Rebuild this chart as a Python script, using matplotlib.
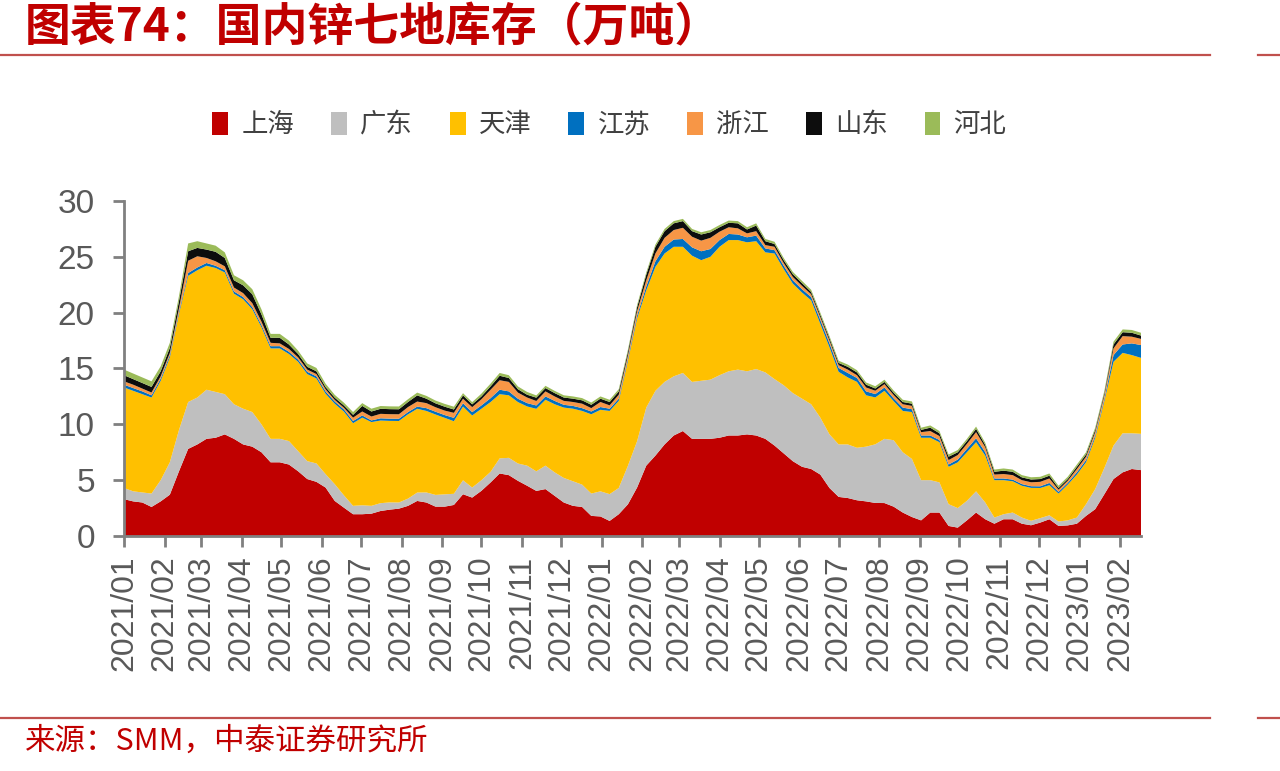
import matplotlib
matplotlib.use("Agg")
import matplotlib.pyplot as plt
import matplotlib.dates as mdates
from matplotlib.patches import Patch
from matplotlib.lines import Line2D
import pandas as pd

plt.rcParams['font.family'] = ['Noto Sans CJK SC', 'DejaVu Sans']

# weekly dates
dates = pd.date_range('2021-01-01', periods=112, freq='7D')

shanghai = [3.3, 3.1, 3.0, 2.6, 3.1, 3.7, 5.8, 7.8, 8.2, 8.7, 8.8, 9.1, 8.7, 8.2, 8.0, 7.5,
            6.6, 6.6, 6.4, 5.8, 5.1, 4.85, 4.34, 3.14, 2.54, 1.95, 1.95, 2.0, 2.24, 2.36, 2.45, 2.7,
            3.14, 3.0, 2.63, 2.63, 2.78, 3.74, 3.44, 4.04, 4.79, 5.6, 5.45, 4.94, 4.5, 4.04, 4.2, 3.6,
            3.0, 2.7, 2.6, 1.8, 1.75, 1.35, 1.95, 2.84, 4.34, 6.3, 7.2, 8.2, 9.0, 9.4, 8.7, 8.7,
            8.7, 8.8, 9.0, 9.0, 9.1, 9.0, 8.7, 8.1, 7.4, 6.7, 6.2, 6.0, 5.5, 4.3, 3.5, 3.4,
            3.2, 3.1, 2.96, 2.95, 2.63, 2.1, 1.7, 1.4, 2.1, 2.1, 0.9, 0.75, 1.4, 2.1, 1.5, 1.1,
            1.5, 1.5, 1.1, 0.96, 1.2, 1.5, 0.9, 0.95, 1.1, 1.8, 2.4, 3.74, 5.1, 5.7, 6.0, 5.9]
guangdong = [1.0, 0.9, 0.9, 1.2, 1.9, 2.9, 3.7, 4.2, 4.2, 4.4, 4.1, 3.6, 3.1, 3.2, 3.1, 2.5,
             2.1, 2.1, 2.1, 1.8, 1.6, 1.65, 1.2, 1.5, 1.1, 0.75, 0.8, 0.7, 0.7, 0.65, 0.55, 0.65,
             0.75, 0.9, 1.05, 1.1, 1.0, 1.25, 0.9, 0.95, 0.95, 1.35, 1.55, 1.55, 1.8, 1.75, 2.1, 2.1,
             2.2, 2.2, 2.0, 2.0, 2.25, 2.4, 2.35, 3.45, 4.15, 5.2, 5.8, 5.6, 5.3, 5.2, 5.1, 5.2,
             5.3, 5.6, 5.75, 5.9, 5.65, 5.95, 5.95, 5.95, 6.1, 6.1, 6.1, 5.8, 5.1, 4.8, 4.7, 4.8,
             4.7, 4.9, 5.25, 5.75, 5.95, 5.4, 5.2, 3.6, 2.9, 2.7, 1.95, 1.75, 1.75, 1.9, 1.5, 0.55,
             0.45, 0.6, 0.55, 0.4, 0.4, 0.35, 0.4, 0.45, 0.55, 1.05, 1.8, 2.35, 3.0, 3.5, 3.2, 3.25]
tianjin = [9.0, 9.0, 8.8, 8.6, 8.9, 9.4, 10.4, 11.3, 11.4, 11.1, 11.1, 10.9, 9.9, 9.8, 9.2, 8.7,
           8.1, 8.1, 7.8, 8.0, 7.8, 7.6, 7.2, 7.2, 7.5, 7.4, 7.85, 7.5, 7.4, 7.3, 7.3, 7.55,
           7.5, 7.3, 7.2, 6.85, 6.5, 6.6, 6.45, 6.4, 6.25, 5.75, 5.6, 5.5, 5.3, 5.6, 5.9, 6.1,
           6.3, 6.5, 6.6, 7.1, 7.3, 7.45, 7.8, 9.4, 11.0, 10.5, 11.1, 11.5, 11.6, 11.3, 11.3, 10.8,
           11.0, 11.5, 11.75, 11.6, 11.55, 11.45, 10.75, 11.25, 10.4, 9.8, 9.5, 9.3, 8.4, 7.8, 6.5, 6.0,
           5.9, 4.6, 4.2, 4.3, 3.5, 3.7, 4.2, 3.8, 3.8, 3.6, 3.35, 4.1, 4.35, 4.4, 4.2, 3.35,
           3.05, 2.8, 2.85, 2.95, 2.7, 2.7, 2.5, 3.2, 3.85, 3.75, 4.6, 6.0, 7.5, 7.2, 7.0, 6.8]
jiangsu = [0.25, 0.25, 0.25, 0.2, 0.2, 0.2, 0.2, 0.25, 0.25, 0.25, 0.2, 0.2, 0.2, 0.2, 0.2, 0.2,
           0.2, 0.2, 0.2, 0.2, 0.2, 0.2, 0.2, 0.2, 0.2, 0.2, 0.2, 0.15, 0.2, 0.2, 0.2, 0.2,
           0.2, 0.25, 0.25, 0.25, 0.3, 0.3, 0.3, 0.3, 0.35, 0.4, 0.35, 0.3, 0.3, 0.3, 0.3, 0.3,
           0.25, 0.25, 0.25, 0.25, 0.25, 0.2, 0.2, 0.2, 0.25, 0.35, 0.5, 0.6, 0.65, 0.7, 0.75, 0.8,
           0.7, 0.6, 0.55, 0.5, 0.45, 0.5, 0.35, 0.3, 0.3, 0.3, 0.3, 0.3, 0.35, 0.35, 0.35, 0.4,
           0.35, 0.35, 0.3, 0.3, 0.25, 0.3, 0.25, 0.2, 0.2, 0.2, 0.2, 0.25, 0.3, 0.35, 0.3, 0.15,
           0.15, 0.15, 0.15, 0.15, 0.15, 0.2, 0.15, 0.15, 0.2, 0.2, 0.2, 0.2, 0.6, 0.75, 1.05, 1.15]
zhejiang = [0.3, 0.3, 0.25, 0.25, 0.2, 0.2, 0.3, 1.1, 1.0, 0.45, 0.4, 0.35, 0.35, 0.35, 0.35, 0.3,
            0.3, 0.25, 0.25, 0.2, 0.2, 0.2, 0.2, 0.15, 0.15, 0.3, 0.35, 0.35, 0.4, 0.4, 0.4, 0.45,
            0.45, 0.45, 0.4, 0.4, 0.45, 0.4, 0.45, 0.55, 0.75, 0.85, 0.85, 0.55, 0.5, 0.4, 0.45, 0.4,
            0.35, 0.35, 0.4, 0.3, 0.45, 0.3, 0.35, 0.3, 0.4, 0.55, 0.7, 0.8, 0.85, 1.0, 0.95, 0.95,
            1.0, 0.75, 0.6, 0.55, 0.35, 0.4, 0.3, 0.3, 0.25, 0.3, 0.3, 0.25, 0.25, 0.25, 0.25, 0.3,
            0.25, 0.35, 0.3, 0.3, 0.3, 0.3, 0.3, 0.3, 0.4, 0.35, 0.4, 0.4, 0.45, 0.55, 0.45, 0.35,
            0.4, 0.4, 0.35, 0.35, 0.4, 0.4, 0.2, 0.2, 0.3, 0.3, 0.3, 0.3, 0.6, 0.75, 0.6, 0.55]
shandong = [0.55, 0.5, 0.5, 0.5, 0.45, 0.45, 0.65, 0.85, 0.75, 0.75, 0.85, 0.75, 0.65, 0.7, 0.8, 0.65,
            0.45, 0.5, 0.4, 0.3, 0.25, 0.25, 0.2, 0.2, 0.2, 0.25, 0.5, 0.45, 0.45, 0.45, 0.45, 0.45,
            0.55, 0.4, 0.35, 0.35, 0.3, 0.3, 0.25, 0.25, 0.3, 0.4, 0.35, 0.3, 0.25, 0.3, 0.3, 0.3,
            0.3, 0.3, 0.3, 0.3, 0.3, 0.3, 0.3, 0.3, 0.35, 0.5, 0.6, 0.6, 0.6, 0.6, 0.5, 0.55,
            0.5, 0.4, 0.4, 0.45, 0.35, 0.5, 0.35, 0.25, 0.25, 0.25, 0.25, 0.2, 0.2, 0.2, 0.2, 0.25,
            0.25, 0.25, 0.2, 0.2, 0.2, 0.2, 0.2, 0.2, 0.3, 0.25, 0.3, 0.25, 0.25, 0.3, 0.2, 0.25,
            0.3, 0.3, 0.25, 0.25, 0.25, 0.25, 0.15, 0.15, 0.2, 0.2, 0.2, 0.2, 0.35, 0.35, 0.35, 0.3]
hebei = [0.5, 0.5, 0.5, 0.5, 0.45, 0.45, 0.45, 0.7, 0.6, 0.55, 0.55, 0.5, 0.45, 0.45, 0.45, 0.45,
         0.35, 0.35, 0.35, 0.3, 0.3, 0.3, 0.3, 0.25, 0.25, 0.25, 0.25, 0.25, 0.25, 0.25, 0.25, 0.25,
         0.25, 0.25, 0.25, 0.25, 0.25, 0.2, 0.2, 0.25, 0.25, 0.25, 0.25, 0.25, 0.25, 0.2, 0.2, 0.2,
         0.2, 0.2, 0.2, 0.2, 0.2, 0.2, 0.2, 0.2, 0.2, 0.2, 0.2, 0.2, 0.2, 0.2, 0.2, 0.2,
         0.2, 0.2, 0.2, 0.2, 0.2, 0.2, 0.2, 0.2, 0.2, 0.2, 0.2, 0.2, 0.2, 0.2, 0.2, 0.2,
         0.2, 0.2, 0.2, 0.2, 0.2, 0.2, 0.2, 0.2, 0.2, 0.2, 0.2, 0.2, 0.2, 0.2, 0.2, 0.2,
         0.2, 0.2, 0.2, 0.2, 0.2, 0.2, 0.2, 0.2, 0.2, 0.2, 0.2, 0.2, 0.25, 0.25, 0.25, 0.25]

names = ['上海', '广东', '天津', '江苏', '浙江', '山东', '河北']
colors = ['#C00000', '#BFBFBF', '#FFC000', '#0070C0', '#F79646', '#0D0D0D', '#9BBB59']
series = [shanghai, guangdong, tianjin, jiangsu, zhejiang, shandong, hebei]

fig = plt.figure(figsize=(12.8, 7.71), dpi=100)
ax = fig.add_axes([0.0969, 0.3048, 0.7945, 0.4345])

ax.stackplot(dates, *series, colors=colors, labels=names, linewidth=0)

ax.set_ylim(0, 30)
ax.set_yticks(range(0, 31, 5))
ax.set_xlim(dates[0], dates[-1])
ax.xaxis.set_major_locator(mdates.MonthLocator())
ax.xaxis.set_major_formatter(mdates.DateFormatter('%Y/%m'))

axis_col = '#808080'
for s in ['top', 'right']:
    ax.spines[s].set_visible(False)
for s in ['left', 'bottom']:
    ax.spines[s].set_color(axis_col)
    ax.spines[s].set_linewidth(2)
    ax.spines[s].set_zorder(5)
ax.tick_params(axis='both', colors=axis_col, width=2, length=8, direction='out',
               labelcolor='#595959')
ax.tick_params(axis='x', pad=6, labelsize=23)
ax.tick_params(axis='y', pad=13, labelsize=24)
for lab in ax.get_xticklabels() + ax.get_yticklabels():
    lab.set_fontfamily(['Liberation Sans', 'DejaVu Sans'])
for lab in ax.get_xticklabels():
    lab.set_rotation(90)

handles = [Patch(facecolor=c, edgecolor='none') for c in colors]
leg = fig.legend(handles, names, loc='center', bbox_to_anchor=(0.476, 0.838), ncol=7,
                 frameon=False, fontsize=19, handlelength=0.6, handleheight=1.0,
                 handletextpad=0.5, columnspacing=1.4)
for t in leg.get_texts():
    t.set_color('#404040')

# title
fig.text(0.0195, 0.963, '图表74：国内锌七地库存（万吨）', fontsize=33, fontweight='bold',
         color='#C00000', ha='left', va='center', fontstyle='italic')

# red rules
line_col = '#C0504D'
for yy in [1 - 55 / 771, 1 - 718 / 771]:
    fig.add_artist(Line2D([0, 1210 / 1280], [yy, yy], color=line_col, linewidth=1.6,
                          transform=fig.transFigure))
    fig.add_artist(Line2D([1258 / 1280, 1], [yy, yy], color=line_col, linewidth=1.6,
                          transform=fig.transFigure))

# footer
fig.text(0.0195, 1 - 741 / 771, '来源：SMM，中泰证券研究所', fontsize=22,
         color='#C00000', ha='left', va='center')

fig.savefig('out.png', dpi=100)
